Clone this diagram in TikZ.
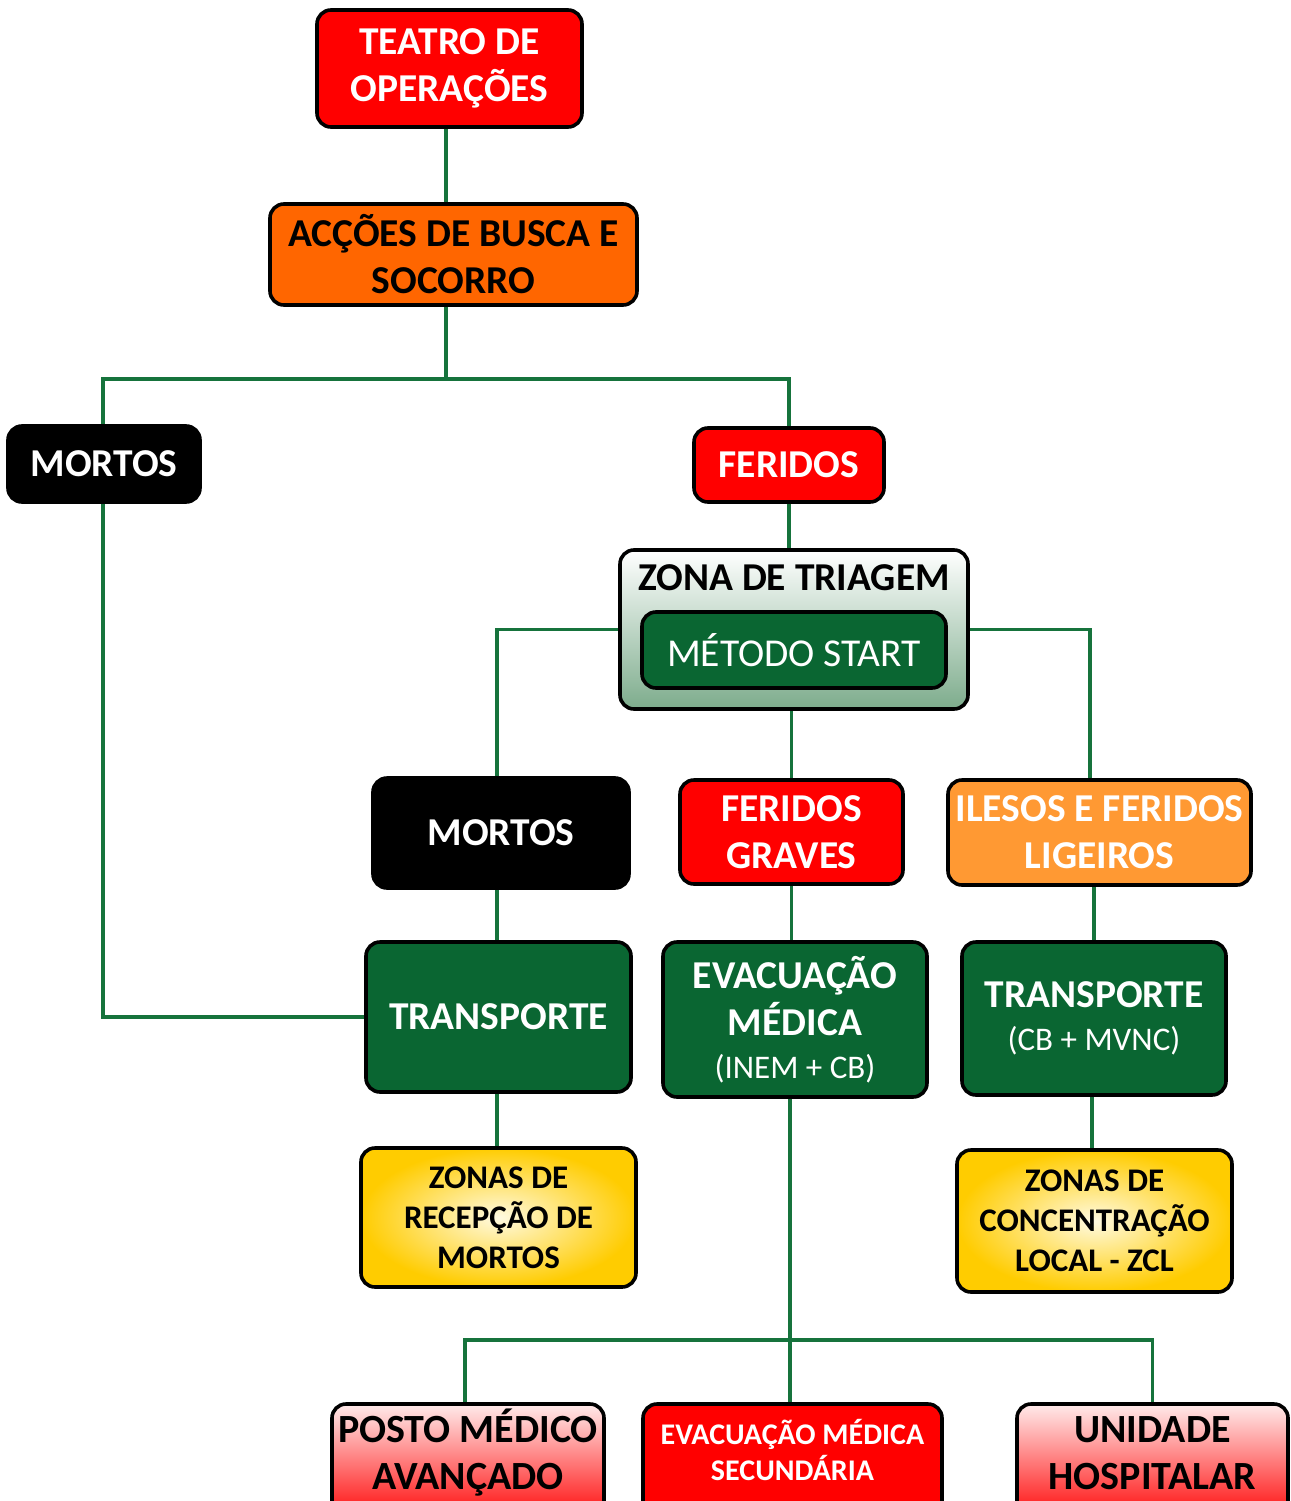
\documentclass[tikz,border=0pt]{standalone}
\usepackage{fontspec}
\setmainfont{Carlito}
\pgfdeclarelayer{paper}
\pgfdeclarelayer{links}
\pgfsetlayers{paper,links,main}
\newcommand{\smallreg}{\mdseries\fontsize{33}{40}\selectfont}
\begin{document}
\definecolor{redbox}{RGB}{255,0,0}
\definecolor{orangebox}{RGB}{255,102,0}
\definecolor{lightorange}{RGB}{255,153,51}
\definecolor{darkgreen}{RGB}{10,102,50}
\definecolor{linkgreen}{RGB}{22,115,60}
\definecolor{gold}{RGB}{255,204,0}
\definecolor{paleyellow}{RGB}{255,250,225}
\definecolor{greygreen}{RGB}{125,172,140}
\definecolor{palered}{RGB}{255,235,235}
\begin{tikzpicture}[x=1pt,y=-1pt,
  box/.style={draw=black,line width=3.6pt,rounded corners=14pt,inner sep=0pt,
    align=center,font=\bfseries\fontsize{39.5}{47}\selectfont},
  whitetxt/.style={text=white},
  blacktxt/.style={text=black},
  redfill/.style={box,fill=redbox,whitetxt},
  greenfill/.style={box,fill=darkgreen,whitetxt},
  blackfill/.style={box,fill=black,whitetxt},
  yellowfill/.style={box,inner color=paleyellow,outer color=gold,blacktxt,
    font=\bfseries\fontsize{33}{40}\selectfont},
  pinkfill/.style={box,top color=palered,bottom color=redbox},
  link/.style={draw=linkgreen,line width=3.2pt}
]
\useasboundingbox (0,0) rectangle (1290,1501);
\clip (0,0) rectangle (1290,1501);
\begin{pgfonlayer}{paper}
\fill[white] (0,0) rectangle (1290,1501);
\end{pgfonlayer}

% top of the tree
\node[redfill,minimum width=265,minimum height=117] (teatro) at (449.5,68.5)
  {TEATRO DE\\OPERAÇÕES};
\node[box,fill=orangebox,blacktxt,minimum width=367,minimum height=101] (accoes)
  at (453.5,254.5) {ACÇÕES DE BUSCA E\\SOCORRO};
\node[blackfill,minimum width=192,minimum height=76] (mortosA) at (104,464) {MORTOS};
\node[redfill,minimum width=190,minimum height=74] (feridos) at (789,465) {FERIDOS};

% triage zone
\node[box,top color=white,bottom color=greygreen,minimum width=348,minimum height=159]
  (zona) at (794,629.5) {};
\node[blacktxt,font=\bfseries\fontsize{39.5}{44}\selectfont] (zonaT) at (794,578)
  {ZONA DE TRIAGEM};
\node[box,fill=darkgreen,whitetxt,font=\fontsize{39.5}{44}\selectfont,
  minimum width=304,minimum height=76] (metodo) at (794,650) {MÉTODO START};

% triage outcomes
\node[blackfill,minimum width=256,minimum height=110] (mortosB) at (501,833) {MORTOS};
\node[redfill,minimum width=223,minimum height=104] (graves) at (791.5,832)
  {FERIDOS\\GRAVES};
\node[box,fill=lightorange,whitetxt,minimum width=303,minimum height=105] (ilesos)
  at (1099.5,832.5) {ILESOS E FERIDOS\\LIGEIROS};

% transport
\node[greenfill,minimum width=265,minimum height=150] (transA) at (498.5,1017)
  {TRANSPORTE};
\node[greenfill,minimum width=264,minimum height=155] (evac) at (795,1019.5)
  {EVACUAÇÃO\\MÉDICA\\[-4pt]{\smallreg (INEM + CB)}};
\node[greenfill,minimum width=264,minimum height=153] (transB) at (1094,1018.5)
  {TRANSPORTE\\[-4pt]{\smallreg (CB + MVNC)}};

% reception zones
\node[yellowfill,minimum width=275,minimum height=139] (zonasA) at (498.5,1217.5)
  {ZONAS DE\\RECEPÇÃO DE\\MORTOS};
\node[yellowfill,minimum width=275,minimum height=142] (zonasB) at (1094.5,1221)
  {ZONAS DE\\CONCENTRAÇÃO\\LOCAL - ZCL};

% destinations (cut by the lower edge)
\node[pinkfill,minimum width=272,minimum height=120] (posto) at (468,1464) {};
\node[blacktxt,align=center,font=\bfseries\fontsize{40}{47}\selectfont] (postoT)
  at (468,1453) {POSTO MÉDICO\\AVANÇADO};
\node[redfill,minimum width=299,minimum height=120] (evacsec) at (792.5,1464) {};
\node[whitetxt,align=center,font=\bfseries\fontsize{30}{36}\selectfont] (evacsecT)
  at (792.5,1450) {EVACUAÇÃO MÉDICA\\SECUNDÁRIA};
\node[pinkfill,minimum width=271,minimum height=120] (unidade) at (1152.5,1464) {};
\node[blacktxt,align=center,font=\bfseries\fontsize{40}{47}\selectfont] (unidadeT)
  at (1152.5,1453) {UNIDADE\\HOSPITALAR};

% junction points of the connectors
\coordinate (busT) at (446,379);
\coordinate (busB) at (790,1340);

% connectors, drawn behind the boxes
\begin{pgfonlayer}{links}
\draw[link] (teatro.south -| busT) -- (accoes.north -| busT);
\draw[link] (accoes.south -| busT) -- (busT);
\draw[link] ([xshift=-1pt]mortosA.north) |- (busT) -| (feridos.north);
\draw[link] (feridos.south) -- (feridos.south |- zona.north);
\draw[link] (zona.west) -| ([xshift=-4pt]mortosB.north);
\draw[link] (zona.east) -| ([xshift=-9.5pt]ilesos.north);
\draw[link] (zona.south -| graves.north) -- (graves.north);
\draw[link] ([xshift=-4pt]mortosB.south) -- ([xshift=-1.5pt]transA.north);
\draw[link] (graves.south) -- (graves.south |- evac.north);
\draw[link] (ilesos.south -| transB.north) -- (transB.north);
\draw[link] ([xshift=-1pt]mortosA.south) |- (transA.west);
\draw[link] ([xshift=-1.5pt]transA.south) -- ([xshift=-1.5pt]transA.south |- zonasA.north);
\draw[link] ([xshift=-2pt]transB.south) -- ([xshift=-2pt]transB.south |- zonasB.north);
\draw[link] (evac.south -| busB) -- (busB);
\draw[link] ([xshift=-3pt]posto.north) |- (busB) -| (unidade.north);
\draw[link] (busB) -- (busB |- evacsec.north);
\end{pgfonlayer}
\end{tikzpicture}
\end{document}
